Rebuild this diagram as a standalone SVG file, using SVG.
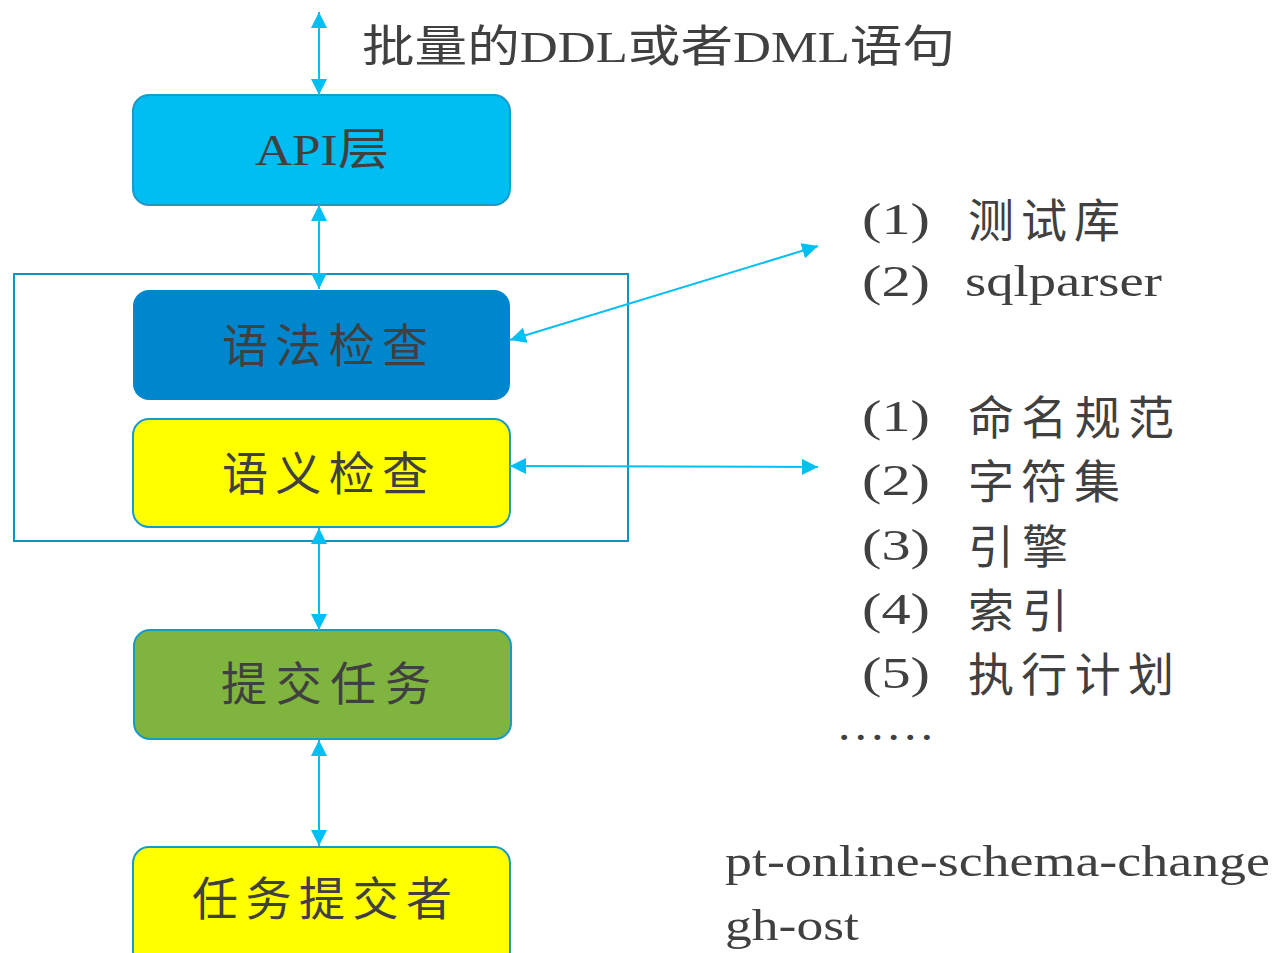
<svg xmlns="http://www.w3.org/2000/svg" width="1279" height="953" viewBox="0 0 1279 953">
<defs>
<style>
.t{font-family:"Liberation Serif","Noto Sans CJK SC",serif;fill:#404040;}
.b{font-size:46px;text-anchor:middle;}
.r{font-size:44px;}
.k{font-size:46px;}
.c{stroke:#00BFF3;stroke-width:2;fill:none;marker-start:url(#ah);marker-end:url(#ah);}
.box{stroke:#1A9AC6;stroke-width:2;}
</style>
<marker id="ah" viewBox="0 0 16 16" refX="16" refY="8" markerWidth="16" markerHeight="16" markerUnits="userSpaceOnUse" orient="auto-start-reverse">
<path d="M0,0 L16,8 L0,16 Z" fill="#00BFF3"/>
</marker>
</defs>
<rect width="1279" height="953" fill="#FFFFFF"/>
<g id="container"><rect x="14" y="274" width="614" height="267" fill="none" stroke="#0F93C0" stroke-width="2"/></g>
<g id="api"><rect class="box" x="133" y="95" width="377" height="110" rx="16" fill="#00BDF2"/><text class="t r" x="255" y="165" textLength="134" lengthAdjust="spacingAndGlyphs">API层</text></g>
<g id="syntax"><rect x="133" y="290" width="377" height="110" rx="16" fill="#0086CC"/><text class="t b" x="325" y="362" textLength="206" lengthAdjust="spacing">语法检查</text></g>
<g id="semantic"><rect class="box" x="133" y="419" width="377" height="108" rx="16" fill="#FFFF00"/><text class="t b" x="325" y="490" textLength="206" lengthAdjust="spacing">语义检查</text></g>
<g id="submit"><rect class="box" x="134" y="630" width="377" height="109" rx="16" fill="#7FB43E"/><text class="t b" x="326" y="700" textLength="210" lengthAdjust="spacing">提交任务</text></g>
<g id="submitter"><rect class="box" x="133" y="847" width="377" height="120" rx="16" fill="#FFFF00"/><text class="t b" x="322" y="915" textLength="260" lengthAdjust="spacing">任务提交者</text></g>
<g id="connectors">
<line class="c" x1="319" y1="12" x2="319" y2="95"/>
<line class="c" x1="319" y1="205" x2="319" y2="289"/>
<line class="c" x1="319" y1="528" x2="319" y2="630"/>
<line class="c" x1="319" y1="740" x2="319" y2="846"/>
<line class="c" x1="510" y1="340" x2="818" y2="246"/>
<line class="c" x1="510" y1="466" x2="818" y2="467"/>
</g>
<g id="labels">
<text class="t r" x="362" y="62" textLength="593" lengthAdjust="spacingAndGlyphs">批量的DDL或者DML语句</text>
<text class="t r" x="862" y="234" textLength="68" lengthAdjust="spacingAndGlyphs">(1)</text>
<text class="t k" x="968" y="237" textLength="152" lengthAdjust="spacing">测试库</text>
<text class="t r" x="862" y="296" textLength="68" lengthAdjust="spacingAndGlyphs">(2)</text>
<text class="t r" x="965" y="296" textLength="197" lengthAdjust="spacingAndGlyphs">sqlparser</text>
<text class="t r" x="862" y="431" textLength="68" lengthAdjust="spacingAndGlyphs">(1)</text>
<text class="t k" x="968" y="434" textLength="206" lengthAdjust="spacing">命名规范</text>
<text class="t r" x="862" y="495" textLength="68" lengthAdjust="spacingAndGlyphs">(2)</text>
<text class="t k" x="968" y="498" textLength="152" lengthAdjust="spacing">字符集</text>
<text class="t r" x="862" y="560" textLength="68" lengthAdjust="spacingAndGlyphs">(3)</text>
<text class="t k" x="968" y="563" textLength="100" lengthAdjust="spacing">引擎</text>
<text class="t r" x="862" y="624" textLength="68" lengthAdjust="spacingAndGlyphs">(4)</text>
<text class="t k" x="968" y="627" textLength="100" lengthAdjust="spacing">索引</text>
<text class="t r" x="862" y="688" textLength="68" lengthAdjust="spacingAndGlyphs">(5)</text>
<text class="t k" x="968" y="691" textLength="206" lengthAdjust="spacing">执行计划</text>
<text class="t r" x="836" y="740" textLength="99" lengthAdjust="spacingAndGlyphs">……</text>
<text class="t r" x="725" y="876" textLength="545" lengthAdjust="spacingAndGlyphs">pt-online-schema-change</text>
<text class="t r" x="725" y="940" textLength="134" lengthAdjust="spacingAndGlyphs">gh-ost</text>
</g>
</svg>
